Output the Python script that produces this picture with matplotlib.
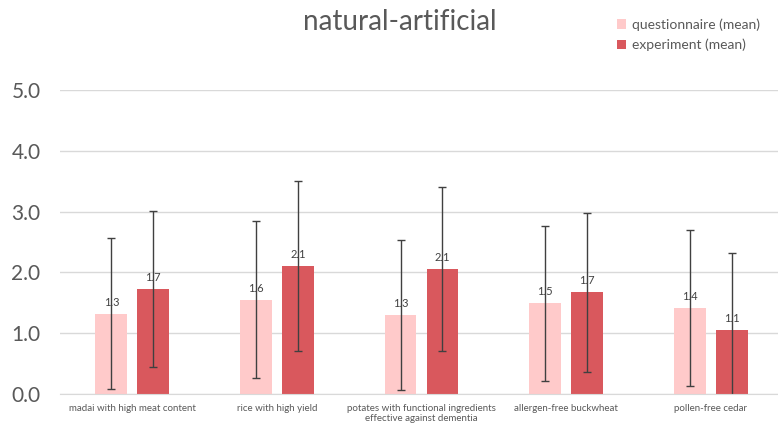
import matplotlib.pyplot as plt
import numpy as np

plt.rcParams['font.family'] = ['Lato', 'DejaVu Sans']

categories = ['madai with high meat content', 'rice with high yield',
              'potates with functional ingredients\neffective against dementia',
              'allergen-free buckwheat', 'pollen-free cedar']
q_mean = [1.32, 1.55, 1.30, 1.49, 1.41]
q_sd = [1.24, 1.29, 1.23, 1.28, 1.28]
e_mean = [1.73, 2.11, 2.06, 1.67, 1.05]
e_sd = [1.28, 1.40, 1.35, 1.30, 1.27]

q_color = '#FFCACA'
e_color = '#D9585D'
txt = '#595959'

fig = plt.figure(figsize=(7.78, 4.25), dpi=100)
ax = fig.add_axes([60 / 778, 1 - 394 / 425, 718 / 778, (394 - 90) / 425])

x = np.arange(len(categories))
w = 0.22
off = 0.145
err_kw = dict(ecolor='#404040', elinewidth=1, capsize=3, capthick=1)

b1 = ax.bar(x - off, q_mean, w, color=q_color, yerr=q_sd, error_kw=err_kw,
            label='questionnaire (mean)', zorder=2)
b2 = ax.bar(x + off, e_mean, w, color=e_color, yerr=e_sd, error_kw=err_kw,
            label='experiment (mean)', zorder=2)

# value labels above bars
for xs, vals in [(x - off, q_mean), (x + off, e_mean)]:
    for xi, v in zip(xs, vals):
        ax.text(xi, v + 0.1, f'{v:.1f}', ha='center', va='bottom', fontsize=8, color='#404040', zorder=3)

ax.set_ylim(0, 5)
ax.set_xlim(-0.5, -0.5 + 5 * 718 / 723)
ax.set_yticks(np.arange(0, 5.1, 1))
ax.set_yticklabels([f'{v:.1f}' for v in np.arange(0, 5.1, 1)], fontsize=15, color=txt)
ax.set_xticks(x)
ax.set_xticklabels(categories, fontsize=7, color=txt)
ax.tick_params(axis='y', length=0, pad=14)
ax.tick_params(axis='x', length=0, pad=7)
ax.grid(axis='y', color='#D9D9D9', linewidth=1, zorder=0)
ax.set_axisbelow(True)
for s in ['top', 'right', 'left']:
    ax.spines[s].set_visible(False)
ax.spines['bottom'].set_color('#D9D9D9')

fig.text(400 / 778, 1 - 22 / 425, 'natural-artificial', ha='center', va='center', fontsize=20, color=txt)
fig.legend(handles=[b1, b2], loc='upper left', bbox_to_anchor=(604 / 778, 1 - 6 / 425),
           frameon=False, fontsize=10, labelcolor=txt, handlelength=0.7, handleheight=0.7,
           handletextpad=0.4, labelspacing=0.55)

fig.savefig('out.png', dpi=100)
